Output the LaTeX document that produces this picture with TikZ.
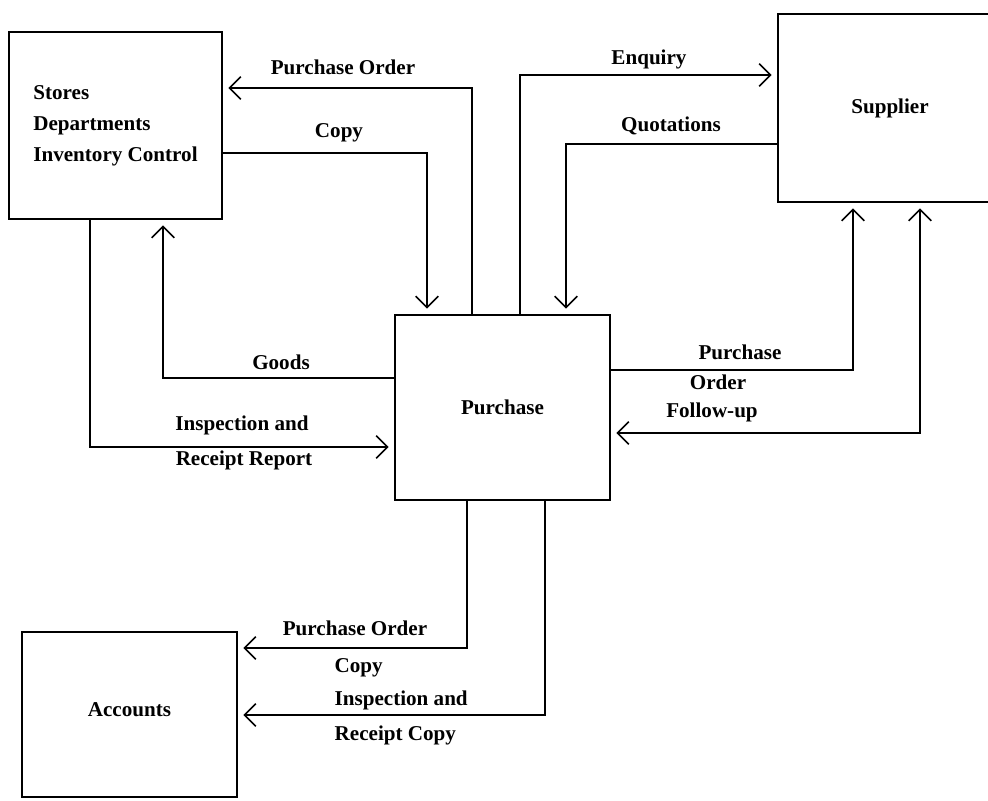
\documentclass[tikz,border=0pt]{standalone}
\usepackage{fontspec}
\setmainfont{Liberation Serif}
\usepackage{tikz}
\usetikzlibrary{arrows.meta}
\usetikzlibrary{positioning}

\begin{document}
\begin{tikzpicture}[
    x=0.025cm, y=-0.025cm,
    box/.style={rectangle, draw, line width=1.1pt, inner sep=0pt, font=\bfseries\fontsize{15}{22}\selectfont},
    lbl/.style={inner sep=1pt, font=\bfseries\fontsize{15}{18}\selectfont},
    flow/.style={line width=1.1pt, shorten >=4pt},
  ]
\tikzset{>={Straight Barb[length=8pt, width=16pt, line width=1.1pt]}}
  \useasboundingbox (0,0) rectangle (988,801);

  % boxes
  \node[box, minimum width=5.325cm, minimum height=4.675cm, align=left] (stores) at (115.5,125.5)
    {Stores\\Departments\\Inventory Control};
  \node[box, minimum width=5.6cm, minimum height=4.7cm] (supplier) at (890,108) {Supplier\hspace{8pt}};
  \node[box, minimum width=5.375cm, minimum height=4.625cm] (purchase) at (502.5,407.5) {Purchase};
  \node[box, minimum width=5.375cm, minimum height=4.125cm] (accounts) at (129.5,714.5) {\raisebox{7pt}{Accounts}};

  % elbow points
  \coordinate (poTop)   at (472,88);
  \coordinate (copyTop) at (427,153);
  \coordinate (enqTop)  at (520,75);
  \coordinate (quoTop)  at (566,144);
  \coordinate (goodsL)  at (163,378);
  \coordinate (irrL)    at (90,447);
  \coordinate (poR)     at (853,370);
  \coordinate (fuR)     at (920,433);
  \coordinate (poB)     at (467,648);
  \coordinate (irB)     at (545,715);

  \draw[flow, ->] (purchase.north -| poTop) |- (stores.east |- poTop);
  \draw[flow, ->] (stores.east |- copyTop) -| (purchase.north -| copyTop);
  \draw[flow, ->] (purchase.north -| enqTop) |- (supplier.west |- enqTop);
  \draw[flow, ->] (supplier.west |- quoTop) -| (purchase.north -| quoTop);
  \draw[flow, ->] (purchase.west |- goodsL) -| (stores.south -| goodsL);
  \draw[flow, ->] (stores.south -| irrL) |- (purchase.west |- irrL);
  \draw[flow, ->] (purchase.east |- poR) -| (supplier.south -| poR);
  \draw[flow, <->, shorten <=4pt] (purchase.east |- fuR) -| (supplier.south -| fuR);
  \draw[flow, ->] (purchase.south -| poB) |- (accounts.east |- poB);
  \draw[flow, ->] (purchase.south -| irB) |- (accounts.east |- irB);

  % labels
  \node[lbl] (lPo)    at (343,67)  {Purchase Order};
  \node[lbl] (lCopy)  at (339,133) {Copy};
  \node[lbl] (lEnq)   at (649,59)  {Enquiry};
  \node[lbl] (lQuo)   at (671,126) {Quotations};
  \node[lbl] (lGoods) at (281,362) {Goods};
  \node[lbl] (lIns)   at (242,425) {Inspection and};
  \node[lbl] (lRep)   at (244,460) {Receipt Report};
  \node[lbl] (lPoR1)  at (740,352) {Purchase};
  \node[lbl] (lPoR2)  at (718,382) {Order};
  \node[lbl] (lFu)    at (712,412) {Follow-up};
  \node[lbl] (lPoB)   at (355,628) {Purchase Order};
  \node[lbl, anchor=west] (lCopyB) at (333,668) {Copy};
  \node[lbl, anchor=west] (lInsB)  at (333,700) {Inspection and};
  \node[lbl, anchor=west] (lRepB)  at (333,735) {Receipt Copy};
\end{tikzpicture}
\end{document}
